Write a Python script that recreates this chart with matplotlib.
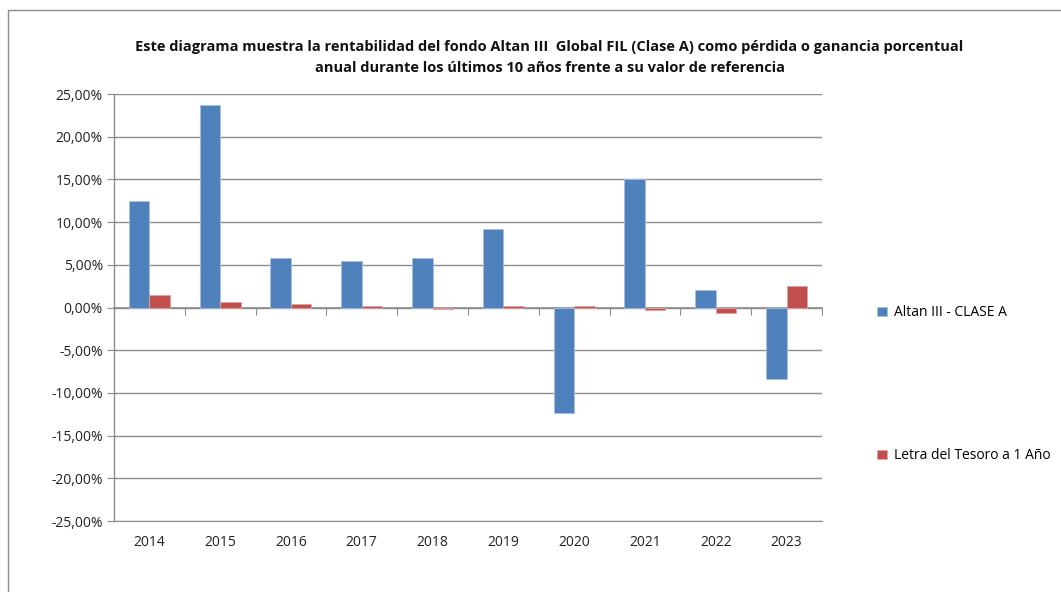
import matplotlib.pyplot as plt
import numpy as np
from matplotlib.patches import Rectangle
from matplotlib.ticker import FuncFormatter, FixedLocator

plt.rcParams['font.family'] = ['Open Sans', 'DejaVu Sans']

years = ['2014', '2015', '2016', '2017', '2018', '2019', '2020', '2021', '2022', '2023']
fondo = [12.5, 23.7, 5.85, 5.5, 5.85, 9.25, -12.4, 15.0, 2.1, -8.4]
letra = [1.5, 0.7, 0.45, 0.15, -0.2, 0.15, 0.15, -0.3, -0.6, 2.55]

titulo = ('Este diagrama muestra la rentabilidad del fondo Altan III  Global FIL (Clase A) como pérdida o ganancia porcentual\n'
          'anual durante los últimos 10 años frente a su valor de referencia')

fig = plt.figure(figsize=(10.61, 5.92), dpi=100)
ax = fig.add_axes([0.1074, 0.1199, 0.6673, 0.7213])

# marco del grafico
fig.patches.append(Rectangle((0.0075, -0.01), 1.0, 0.993, transform=fig.transFigure,
                             fill=False, edgecolor='#8c8c8c', linewidth=1.0))

x = np.arange(len(years))
w = 0.29
ax.bar(x - w/2, fondo, w, color='#4f81bd', edgecolor='#a7c0e0', linewidth=0.6,
       label='Altan III - CLASE A', zorder=3)
ax.bar(x + w/2, letra, w, color='#c0504d', edgecolor='#e0a3a1', linewidth=0.6,
       label='Letra del Tesoro a 1 Año', zorder=3)

ax.set_xlim(-0.5, len(years) - 0.5)
ax.set_ylim(-25, 25)
ax.set_yticks(np.arange(-25, 26, 5))
ax.yaxis.set_major_formatter(FuncFormatter(lambda v, p: ('%.2f%%' % v).replace('.', ',')))
ax.grid(axis='y', color='#8c8c8c', linewidth=1.0, zorder=0)
ax.set_axisbelow(True)

ax.set_xticks(x)
ax.set_xticklabels(years)
ax.tick_params(axis='x', length=0, pad=10, labelsize=10, colors='#222222')
ax.tick_params(axis='y', length=5, color='#8c8c8c', labelsize=10, colors='#222222', pad=3)
for s in ['top', 'right']:
    ax.spines[s].set_visible(False)
ax.spines['bottom'].set_color('#8c8c8c')
ax.spines['left'].set_color('#8c8c8c')
ax.spines['left'].set_linewidth(1.0)

# eje de categorias en el cero
sec = ax.secondary_xaxis(0, transform=ax.transData)
sec.xaxis.set_major_locator(FixedLocator(np.arange(0.5, len(years) - 0.5, 1.0).tolist() + [len(years) - 0.5]))
sec.tick_params(axis='x', length=5, color='#8c8c8c', labelbottom=False, direction='out')
sec.spines['bottom'].set_color('#8c8c8c')
sec.spines['bottom'].set_linewidth(1.2)

fig.text(0.518, 0.932, titulo, ha='center', va='top', fontsize=10.5, fontweight='bold',
         linespacing=1.6, color='#111111')

ax.legend(loc='center left', bbox_to_anchor=(1.06, 0.32), frameon=False, fontsize=10,
          handlelength=0.7, handleheight=0.7, handletextpad=0.5, labelspacing=9.2)

plt.savefig('out.png', dpi=100)
